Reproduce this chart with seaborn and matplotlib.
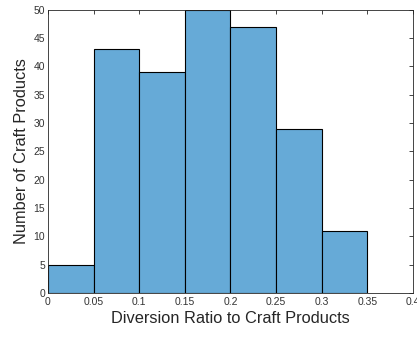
import matplotlib
matplotlib.use("Agg")
import matplotlib.pyplot as plt
import seaborn as sns
import numpy as np

# Histogram of diversion ratios (bin edges and counts per bin)
bin_edges = [0.0, 0.05, 0.10, 0.15, 0.20, 0.25, 0.30, 0.35]
counts = [5, 43, 39, 50, 47, 29, 11]
x_ticks = [0, 0.05, 0.1, 0.15, 0.2, 0.25, 0.3, 0.35, 0.4]
x_tick_labels = ["0", "0.05", "0.1", "0.15", "0.2", "0.25", "0.3", "0.35", "0.4"]
y_ticks = [0, 5, 10, 15, 20, 25, 30, 35, 40, 45, 50]

centers = [(a + b) / 2 for a, b in zip(bin_edges[:-1], bin_edges[1:])]

sns.set_style("white")
plt.rcParams["font.family"] = ["Liberation Sans", "DejaVu Sans"]

fig = plt.figure(figsize=(4.17, 3.37), dpi=100)
ax = fig.add_axes([0.115, 0.1306, 0.875, 0.841])

sns.histplot(x=centers, weights=counts, bins=bin_edges, ax=ax,
             color="#66aad7", alpha=1.0, edgecolor="black", linewidth=0.8)

ax.set_xlim(0, 0.4)
ax.set_ylim(0, 50)
ax.set_xticks(x_ticks)
ax.set_xticklabels(x_tick_labels)
ax.set_yticks(y_ticks)

axis_col = "#262626"
for s in ax.spines.values():
    s.set_visible(True)
    s.set_color(axis_col)
    s.set_linewidth(0.6)
ax.tick_params(direction="in", length=3, width=0.6, colors=axis_col,
               labelcolor="#333333", labelsize=7.5, top=True, right=True, pad=2)
ax.tick_params(axis="x", pad=3)

ax.set_xlabel("Diversion Ratio to Craft Products", fontsize=11.8, color=axis_col, labelpad=3)
ax.set_ylabel("Number of Craft Products", fontsize=11.8, color=axis_col, labelpad=3)

fig.savefig("out.png", dpi=100)
